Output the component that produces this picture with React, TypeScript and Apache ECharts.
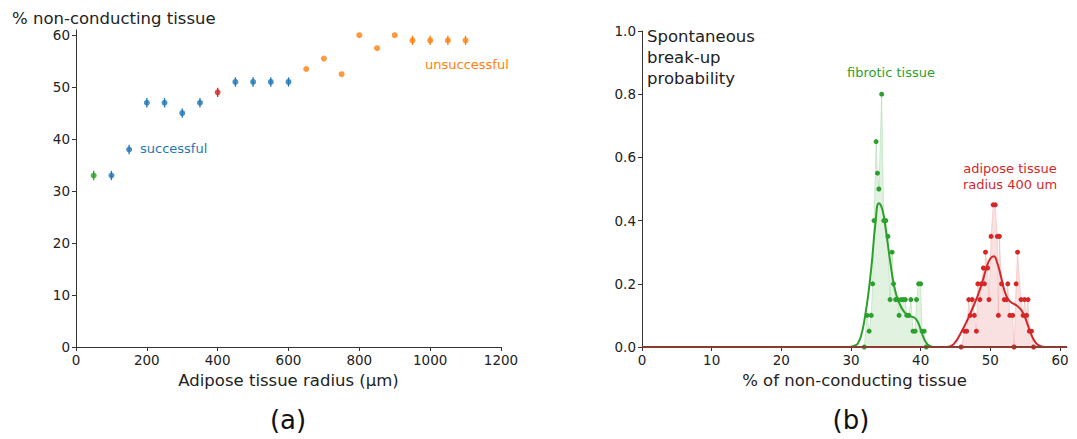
import React, { useEffect, useRef } from "react";
import * as echarts from "echarts";

// ---------- Panel (a) data ----------
const radii = [50, 100, 150, 200, 250, 300, 350, 400, 450, 500, 550, 600, 650, 700, 750, 800, 850, 900, 950, 1000, 1050, 1100];
const pctNonConducting = [33, 33, 38, 47, 47, 45, 47, 49, 51, 51, 51, 51, 53.5, 55.5, 52.5, 60, 57.5, 60, 59, 59, 59, 59];
const errHalf = [0.9, 0.9, 0.9, 0.9, 0.9, 0.9, 0.9, 0.9, 0.9, 0.9, 0.9, 0.9, 0, 0, 0, 0, 0, 0, 0.9, 0.9, 0.9, 0.9];
const outcome = ["fibrotic", "successful", "successful", "successful", "successful", "successful", "successful", "reference", "successful", "successful", "successful", "successful", "unsuccessful", "unsuccessful", "unsuccessful", "unsuccessful", "unsuccessful", "unsuccessful", "unsuccessful", "unsuccessful", "unsuccessful", "unsuccessful"];
const yTicksA = [0, 10, 20, 30, 40, 50, 60];

// ---------- Panel (b) data ----------
const fibroticX = [31.9, 32.3, 32.6, 32.9, 33.1, 33.3, 33.6, 33.8, 34.0, 34.4, 34.7, 35.0, 35.3, 35.6, 35.9, 36.1, 36.4, 36.7, 36.9, 37.2, 37.5, 37.8, 38.0, 38.3, 38.6, 38.9, 39.2, 39.4, 39.7, 40.0, 40.2, 40.5, 40.8];
const fibroticP = [0, 0.10, 0.05, 0.10, 0.20, 0.40, 0.65, 0.55, 0.50, 0.80, 0.40, 0.40, 0.35, 0.15, 0.30, 0.20, 0.15, 0.15, 0.10, 0.15, 0.15, 0.15, 0.10, 0.10, 0.15, 0.05, 0.05, 0.15, 0.20, 0.20, 0.05, 0.05, 0];
const fibroticCurveX = [0, 29.5, 30.0, 30.5, 31.0, 31.5, 32.0, 32.5, 33.0, 33.5, 34.0, 34.5, 35.0, 35.5, 36.0, 36.5, 37.0, 37.5, 38.0, 38.5, 39.0, 39.5, 40.0, 40.5, 41.0, 41.5, 42.0, 42.5, 61];
const fibroticCurveP = [0, 0, 0.001, 0.004, 0.012, 0.04, 0.095, 0.17, 0.27, 0.39, 0.455, 0.435, 0.37, 0.29, 0.215, 0.165, 0.135, 0.115, 0.103, 0.097, 0.094, 0.083, 0.055, 0.025, 0.008, 0.002, 0, 0, 0];

const adiposeX = [45.8, 46.3, 46.6, 46.9, 47.1, 47.4, 47.7, 48.0, 48.2, 48.5, 48.7, 49.0, 49.15, 49.3, 49.6, 49.8, 50.1, 50.4, 50.7, 51.0, 51.15, 51.3, 51.6, 52.0, 52.3, 52.5, 52.8, 53.2, 53.4, 53.7, 53.9, 54.4, 54.7, 54.9, 55.2, 55.4, 55.6, 55.9, 56.2];
const adiposeP = [0, 0.05, 0.05, 0.15, 0.10, 0.15, 0.10, 0.05, 0.20, 0.15, 0.20, 0.25, 0.20, 0.30, 0.25, 0.15, 0.35, 0.45, 0.45, 0.35, 0.10, 0.35, 0.20, 0.15, 0.15, 0.20, 0.10, 0.10, 0, 0.20, 0.30, 0.15, 0.10, 0.15, 0.10, 0.15, 0.05, 0.05, 0];
const adiposeCurveX = [0, 43.5, 44.0, 44.5, 45.0, 45.5, 46.0, 46.5, 47.0, 47.5, 48.0, 48.5, 49.0, 49.5, 50.0, 50.5, 51.0, 51.5, 52.0, 52.5, 53.0, 53.5, 54.0, 54.5, 55.0, 55.5, 56.0, 56.5, 57.0, 57.5, 58.0, 61];
const adiposeCurveP = [0, 0, 0.001, 0.005, 0.016, 0.034, 0.055, 0.076, 0.10, 0.125, 0.152, 0.182, 0.217, 0.255, 0.28, 0.287, 0.265, 0.225, 0.18, 0.153, 0.141, 0.135, 0.127, 0.115, 0.092, 0.062, 0.033, 0.014, 0.005, 0.001, 0, 0];
const baselineX = [0, 61];
const baselineP = [0, 0];
const xTicksB = [0, 10, 20, 30, 40, 50, 60];

const COLORS: Record<string, string> = {
  fibrotic: "#2ca02c",
  successful: "#1f77b4",
  reference: "#d62728",
  unsuccessful: "#ff7f0e",
};
const FONT = "DejaVu Sans";
const TXT = "#222";
const AX = "#333";

export default function App() {
  const ref = useRef<HTMLDivElement>(null);
  useEffect(() => {
    if (!ref.current) return;
    const chart = echarts.init(ref.current, undefined, { renderer: "svg" });

    const pointsA = radii.map((r, i) => ({
      value: [r, pctNonConducting[i]],
      itemStyle: { color: COLORS[outcome[i]] },
    }));
    const errA = radii
      .map((r, i) => [r, pctNonConducting[i], errHalf[i], i])
      .filter((d) => d[2] > 0);

    const axisCommon = {
      axisLine: { show: true, lineStyle: { color: AX, width: 1 } },
      axisTick: { show: true, length: 4, lineStyle: { color: AX } },
      splitLine: { show: false },
      axisLabel: { color: TXT, fontFamily: FONT, fontSize: 13.5 },
    };

    const option: any = {
      animation: false,
      backgroundColor: "#fff",
      textStyle: { fontFamily: FONT },
      grid: [
        { left: 76, top: 30, width: 425, height: 317 },
        { left: 642, top: 31, width: 425, height: 316 },
      ],
      xAxis: [
        {
          gridIndex: 0, type: "value", min: 0, max: 1200, interval: 200,
          ...axisCommon,
          axisLabel: { ...axisCommon.axisLabel, margin: 6, formatter: (v: number) => String(v) },
          name: "Adipose tissue radius (μm)", nameLocation: "middle", nameGap: 24,
          nameTextStyle: { color: TXT, fontFamily: FONT, fontSize: 16.5, verticalAlign: "top" },
        },
        {
          gridIndex: 1, type: "value", min: 0, max: 61,
          ...axisCommon,
          axisTick: { ...axisCommon.axisTick, customValues: xTicksB },
          axisLabel: { ...axisCommon.axisLabel, margin: 6, customValues: xTicksB },
          name: "% of non-conducting tissue", nameLocation: "middle", nameGap: 24,
          nameTextStyle: { color: TXT, fontFamily: FONT, fontSize: 16.5, verticalAlign: "top" },
        },
      ],
      yAxis: [
        {
          gridIndex: 0, type: "value", min: 0, max: 61,
          ...axisCommon,
          axisTick: { ...axisCommon.axisTick, customValues: yTicksA },
          axisLabel: { ...axisCommon.axisLabel, margin: 6, customValues: yTicksA },
        },
        {
          gridIndex: 1, type: "value", min: 0, max: 1, interval: 0.2,
          ...axisCommon,
          axisLabel: { ...axisCommon.axisLabel, margin: 6, formatter: (v: number) => v.toFixed(1) },
        },
      ],
      series: [
        {
          type: "custom",
          xAxisIndex: 0, yAxisIndex: 0,
          data: errA,
          renderItem: (params: any, api: any) => {
            const x = api.value(0), y = api.value(1), e = api.value(2);
            const idx = api.value(3);
            const t = api.coord([x, y + e]);
            const b = api.coord([x, y - e]);
            return {
              type: "line",
              shape: { x1: t[0], y1: t[1], x2: b[0], y2: b[1] },
              style: { stroke: COLORS[outcome[idx]], lineWidth: 1.3 },
            };
          },
          z: 2,
        },
        {
          type: "scatter",
          xAxisIndex: 0, yAxisIndex: 0,
          symbol: "circle", symbolSize: 6,
          data: pointsA,
          z: 3,
        },
        {
          type: "line",
          xAxisIndex: 1, yAxisIndex: 1,
          data: fibroticX.map((x, i) => [x, fibroticP[i]]),
          symbol: "circle", symbolSize: 5, showSymbol: true,
          itemStyle: { color: "#2ca02c" },
          lineStyle: { color: "rgba(44,160,44,0.18)", width: 1 },
          areaStyle: { color: "rgba(44,160,44,0.2)", origin: 0 },
          z: 2,
        },
        {
          type: "line",
          xAxisIndex: 1, yAxisIndex: 1,
          data: adiposeX.map((x, i) => [x, adiposeP[i]]),
          symbol: "circle", symbolSize: 5, showSymbol: true,
          itemStyle: { color: "#d62728" },
          lineStyle: { color: "rgba(214,39,40,0.15)", width: 1 },
          areaStyle: { color: "rgba(214,39,40,0.2)", origin: 0 },
          z: 2,
        },
        {
          type: "line",
          xAxisIndex: 1, yAxisIndex: 1,
          data: fibroticCurveX.map((x, i) => [x, fibroticCurveP[i]]),
          showSymbol: false, smooth: 0.5,
          lineStyle: { color: "#2ca02c", width: 2 },
          z: 3,
        },
        {
          type: "line",
          xAxisIndex: 1, yAxisIndex: 1,
          data: adiposeCurveX.map((x, i) => [x, adiposeCurveP[i]]),
          showSymbol: false, smooth: 0.5,
          lineStyle: { color: "#d62728", width: 2 },
          z: 3,
        },
        {
          type: "line",
          xAxisIndex: 1, yAxisIndex: 1,
          data: baselineX.map((x, i) => [x, baselineP[i]]),
          showSymbol: false,
          lineStyle: { color: "#8a3c30", width: 2 },
          z: 4,
        },
      ],
      graphic: [
        { type: "text", left: 12, top: 10, style: { text: "% non-conducting tissue", fill: TXT, font: `16.5px ${FONT}` } },
        { type: "text", left: 140, top: 142, style: { text: "successful", fill: "#1f77b4", font: `13px ${FONT}` } },
        { type: "text", left: 425, top: 58, style: { text: "unsuccessful", fill: "#ff7f0e", font: `13px ${FONT}` } },
        { type: "text", x: 288, y: 420, style: { text: "(a)", fill: "#111", font: `26px ${FONT}`, align: "center", verticalAlign: "middle" } },
        { type: "text", left: 647, top: 26, style: { text: "Spontaneous\nbreak-up\nprobability", fill: TXT, font: `16.5px ${FONT}`, lineHeight: 21 } },
        { type: "text", x: 891, y: 72, style: { text: "fibrotic tissue", fill: "#2ca02c", font: `13px ${FONT}`, align: "center", verticalAlign: "middle" } },
        { type: "text", x: 1010, y: 176, style: { text: "adipose tissue\nradius 400 um", fill: "#d62728", font: `13px ${FONT}`, align: "center", verticalAlign: "middle", lineHeight: 16 } },
        { type: "text", x: 851, y: 420, style: { text: "(b)", fill: "#111", font: `26px ${FONT}`, align: "center", verticalAlign: "middle" } },
      ],
    };
    chart.setOption(option);
    return () => chart.dispose();
  }, []);
  return (
    <div
      ref={ref}
      style={{ position: "fixed", left: 0, top: 0, width: 1077, height: 439, background: "#fff" }}
    />
  );
}
